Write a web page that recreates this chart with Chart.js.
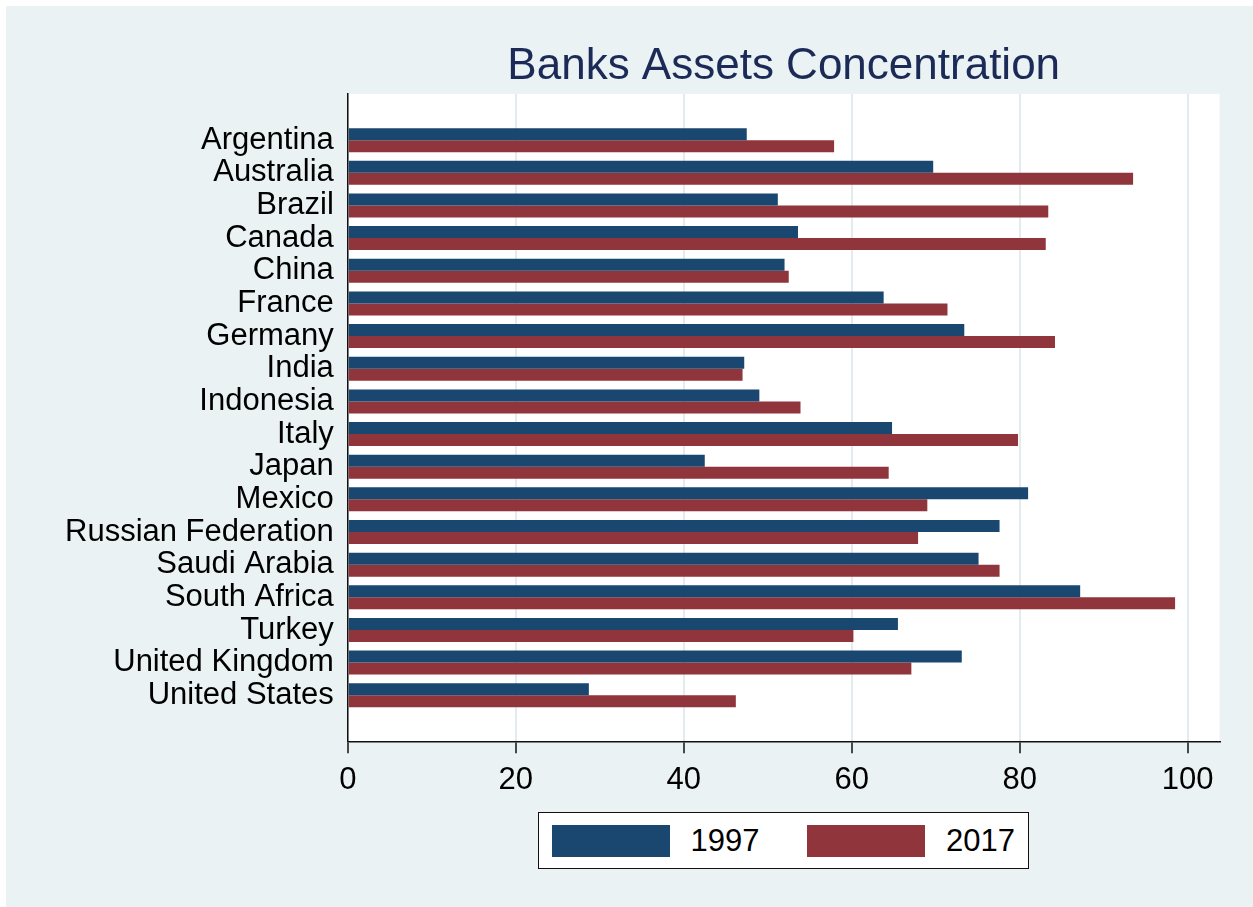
<!DOCTYPE html>
<html><head><meta charset="utf-8">
<script src="https://cdn.jsdelivr.net/npm/chart.js@4"></script>
<style>
html,body{margin:0;padding:0;background:#fff;width:1253px;height:907px;overflow:hidden;}
#wrap{position:absolute;left:6px;top:6px;width:1247px;height:901px;background:#eaf2f3;}
canvas{position:absolute;left:0;top:0;}
#legend{position:absolute;left:532px;top:806px;width:491px;height:57px;background:#fff;border:1.5px solid #111;display:flex;align-items:center;font-family:'Liberation Sans',Arial,sans-serif;font-size:31px;color:#000;box-sizing:border-box;padding-left:13px;}
#legend .item{display:flex;align-items:center;margin-right:48px;}
#legend .sw{width:118px;height:32px;box-sizing:border-box;}
#legend .tx{margin-left:20.5px;line-height:32px;}
</style></head>
<body>
<div id="wrap"><canvas id="c" width="1247" height="901"></canvas><div id="legend"></div></div>
<script>
const categories = ["Argentina","Australia","Brazil","Canada","China","France","Germany","India","Indonesia","Italy","Japan","Mexico","Russian Federation","Saudi Arabia","South Africa","Turkey","United Kingdom","United States"];
const values1997 = [47.5, 69.7, 51.2, 53.6, 52.0, 63.8, 73.4, 47.2, 49.0, 64.8, 42.5, 81.0, 77.6, 75.1, 87.2, 65.5, 73.1, 28.7];
const values2017 = [57.9, 93.5, 83.4, 83.1, 52.5, 71.4, 84.2, 47.0, 53.9, 79.8, 64.4, 69.0, 67.9, 77.6, 98.5, 60.2, 67.1, 46.2];
const seriesLabels = ["1997", "2017"];
const seriesColors = ["#1a476f", "#90353b"];
const titleText = "Banks Assets Concentration";

const FONT = "'Liberation Sans', Arial, sans-serif";

const bgPlugin = {
  id: 'bg',
  afterLayout(chart) {
    const ca = chart.chartArea;
    if (chart.titleBlock) { chart.titleBlock.left = ca.left; chart.titleBlock.right = ca.right; }
  },
  beforeDraw(chart) {
    const {ctx, chartArea: ca} = chart;
    ctx.save();
    ctx.fillStyle = '#ffffff';
    ctx.fillRect(ca.left, ca.top, ca.right - ca.left, ca.bottom - ca.top);
    ctx.restore();
  }
};

const mkData = vals => vals.map((v, i) => ({x: v, y: i}));

const chart = new Chart(document.getElementById('c'), {
  type: 'bar',
  data: {
    datasets: [
      {label: seriesLabels[0], data: mkData(values1997), backgroundColor: seriesColors[0], borderColor: seriesColors[0], borderWidth: 0},
      {label: seriesLabels[1], data: mkData(values2017), backgroundColor: seriesColors[1], borderColor: seriesColors[1], borderWidth: 0}
    ]
  },
  options: {
    responsive: false,
    animation: false,
    indexAxis: 'y',
    categoryPercentage: 0.735,
    barPercentage: 1.0,
    layout: {padding: {left: 45, right: 33.4, top: 0, bottom: 98.5}},
    plugins: {
      legend: {display: false},
      tooltip: {enabled: false},
      title: {
        display: true, text: titleText, color: '#1b2a56',
        font: {family: FONT, size: 44, weight: 'normal'},
        padding: {top: 34, bottom: 1}
      }
    },
    scales: {
      x: {
        type: 'linear', min: 0, max: 103.8, bounds: 'data', offset: false,
        ticks: {stepSize: 20, includeBounds: false, color: '#000', font: {family: FONT, size: 31}, padding: 9, maxRotation: 0},
        grid: {color: '#e2ebee', lineWidth: 2, drawTicks: true, tickLength: 12, tickColor: '#111', tickWidth: 1.5, offset: false},
        border: {display: true, color: '#111', width: 1.5}
      },
      y: {
        type: 'linear', min: -1.42, max: 18.41, bounds: 'data', reverse: true, offset: false,
        afterBuildTicks(scale) {
          scale.ticks = categories.map((c, i) => ({value: i}));
        },
        ticks: {
          autoSkip: false, includeBounds: false, color: '#000', font: {family: FONT, size: 31}, padding: 14,
          callback: (v) => categories[v]
        },
        grid: {display: false, drawTicks: false, offset: false},
        border: {display: true, color: '#111', width: 1.5}
      }
    }
  },
  plugins: [bgPlugin]
});

// legend built from the chart's datasets
const leg = document.getElementById('legend');
chart.data.datasets.forEach(ds => {
  const it = document.createElement('div'); it.className = 'item';
  const sw = document.createElement('div'); sw.className = 'sw'; sw.style.background = ds.backgroundColor;
  const tx = document.createElement('span'); tx.className = 'tx'; tx.textContent = ds.label;
  it.appendChild(sw); it.appendChild(tx); leg.appendChild(it);
});
</script>
</body></html>
